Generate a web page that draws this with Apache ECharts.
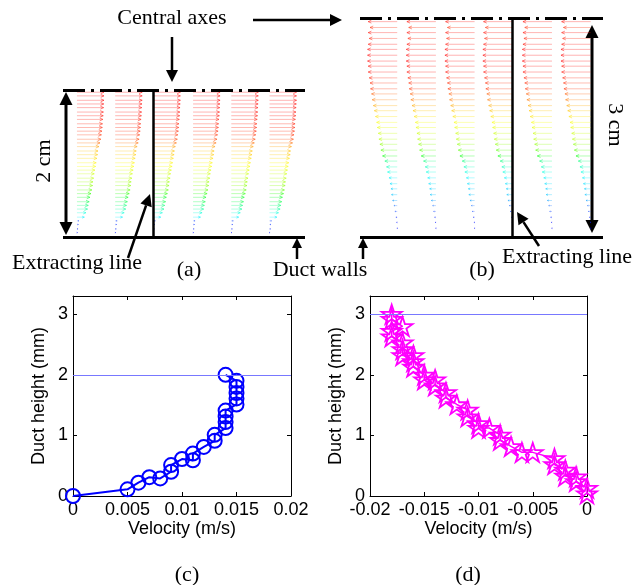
<!DOCTYPE html>
<html><head><meta charset="utf-8">
<script src="https://cdn.jsdelivr.net/npm/echarts@6/dist/echarts.min.js"></script>
<style>html,body{margin:0;padding:0;background:#fff}#c{width:640px;height:585px}</style>
</head><body><div id="c"></div>
<script>
// ---- Panel (a): vector field, arrows pointing +x ----
var colsA = [0.19, 0.71, 1.23, 1.77, 2.29, 2.81];          // column positions (cm)
var hA = [0.06,0.11,0.17,0.22,0.27,0.33,0.38,0.43,0.48,0.54,0.59,0.64,0.70,0.75,0.80,0.86,0.91,0.96,1.01,1.07,1.12,1.17,1.23,1.28,1.33,1.39,1.44,1.49,1.54,1.60,1.65,1.70,1.76,1.81,1.86,1.92,1.97];
var uA = [0.0003,0.0006,0.0008,0.0011,0.0041,0.0050,0.0059,0.0063,0.0068,0.0072,0.0078,0.0083,0.0087,0.0089,0.0093,0.0096,0.0100,0.0104,0.0107,0.0111,0.0115,0.0117,0.0122,0.0128,0.0133,0.0136,0.0139,0.0141,0.0142,0.0144,0.0146,0.0147,0.0148,0.0149,0.0150,0.0150,0.0150];
var centerA = 2, wallA = 0, extractColA = 2;

// ---- Panel (b): vector field, arrows pointing -x ----
var colsB = [0.51, 1.04, 1.57, 2.09, 2.63, 3.16];
var hB = [0.12,0.20,0.27,0.35,0.43,0.50,0.58,0.66,0.73,0.81,0.89,0.96,1.04,1.11,1.19,1.27,1.34,1.42,1.50,1.57,1.65,1.73,1.80,1.88,1.96,2.03,2.11,2.18,2.26,2.34,2.41,2.49,2.57,2.64,2.72,2.80,2.87,2.95];
var uB = [-0.0002,-0.0004,-0.0008,-0.0014,-0.0020,-0.0028,-0.0035,-0.0038,-0.0044,-0.0050,-0.0059,-0.0065,-0.0075,-0.0089,-0.0099,-0.0105,-0.0111,-0.0115,-0.0121,-0.0125,-0.0132,-0.0139,-0.0145,-0.0152,-0.0156,-0.0162,-0.0165,-0.0170,-0.0176,-0.0176,-0.0180,-0.0180,-0.0180,-0.0176,-0.0170,-0.0176,-0.0165,-0.0176];
var centerB = 3, wallB = 0, extractColB = 3;

// ---- Panel (c) ----
var velC = [0,0.005,0.006,0.007,0.008,0.009,0.009,0.010,0.011,0.011,0.012,0.013,0.013,0.014,0.014,0.014,0.014,0.015,0.015,0.015,0.015,0.015,0.014];
var hC   = [0,0.11,0.22,0.31,0.29,0.40,0.51,0.61,0.59,0.70,0.81,0.91,1.01,1.12,1.22,1.31,1.41,1.51,1.61,1.70,1.80,1.90,2.00];
var centerC = 2;
var xTicksC = ['0','0.005','0.01','0.015','0.02'];

// ---- Panel (d) ----
var velD = [0,0,-0.001,-0.001,-0.002,-0.002,-0.003,-0.003,-0.005,-0.006,-0.007,-0.008,-0.008,-0.009,-0.010,-0.010,-0.011,-0.011,-0.012,-0.013,-0.013,-0.014,-0.014,-0.015,-0.015,-0.016,-0.016,-0.016,-0.017,-0.017,-0.017,-0.018,-0.018,-0.017,-0.018,-0.018];
var hD   = [0.04,0.13,0.24,0.32,0.33,0.43,0.52,0.62,0.72,0.72,0.82,0.92,1.01,1.12,1.12,1.20,1.31,1.42,1.51,1.62,1.71,1.82,1.92,1.92,2.00,2.13,2.22,2.32,2.32,2.42,2.53,2.63,2.72,2.80,2.92,3.00];
var centerD = 3;
var xTicksD = ['-0.02','-0.015','-0.01','-0.005','0'];
var yTicks = ['0','1','2','3'];

var SERIF = "'Liberation Serif','Times New Roman',serif";
var SANS = "'Liberation Sans',Arial,sans-serif";
var jet = ['#0000ff','#2a6cff','#00c8ff','#00ffff','#00ff90','#00ff00','#a8ff00','#ffff00','#ffb000','#ff3000','#ff0000'];

function field(cols, hs, us){
  var d = [];
  cols.forEach(function(c){ hs.forEach(function(h, j){ d.push([c, h, us[j]]); }); });
  return d;
}
function arrowRender(scale){
  return function(params, api){
    var x0 = api.value(0), y0 = api.value(1), u = api.value(2);
    var p0 = api.coord([x0, y0]), p1 = api.coord([x0 + u*scale, y0]);
    var c = api.visual('color');
    var dx = p1[0]-p0[0], len = Math.abs(dx), dir = dx >= 0 ? 1 : -1;
    var hl = Math.max(0.8, Math.min(3.2, len*0.3)), hw = hl*0.45;
    return {type:'group', children:[
      {type:'line', shape:{x1:p0[0],y1:p0[1],x2:p1[0],y2:p1[1]}, style:{stroke:c, lineWidth:1, opacity:0.3}},
      {type:'polyline', shape:{points:[[p1[0]-dir*hl,p1[1]-hw],[p1[0],p1[1]],[p1[0]-dir*hl,p1[1]+hw]]}, style:{stroke:c, fill:null, lineWidth:1, opacity:0.5}}
    ]};
  };
}
function tickFmt(labels){
  return function(v){
    for (var i=0;i<labels.length;i++){ if (Math.abs(parseFloat(labels[i]) - v) < 1e-9) return labels[i]; }
    return '';
  };
}
function arrowG(x1,y1,x2,y2,hl,hw,lw){
  var dx=x2-x1, dy=y2-y1, L=Math.sqrt(dx*dx+dy*dy), ux=dx/L, uy=dy/L;
  var bx=x2-ux*hl, by=y2-uy*hl;
  return [
    {type:'line', shape:{x1:x1,y1:y1,x2:bx,y2:by}, style:{stroke:'#000', lineWidth:lw}},
    {type:'polygon', shape:{points:[[x2,y2],[bx-uy*hw,by+ux*hw],[bx+uy*hw,by-ux*hw]]}, style:{fill:'#000'}}
  ];
}
function dblArrowG(x,y1,y2,hl,hw,lw){
  return [
    {type:'line', shape:{x1:x,y1:y1+hl,x2:x,y2:y2-hl}, style:{stroke:'#000', lineWidth:lw}},
    {type:'polygon', shape:{points:[[x,y1],[x-hw,y1+hl],[x+hw,y1+hl]]}, style:{fill:'#000'}},
    {type:'polygon', shape:{points:[[x,y2],[x-hw,y2-hl],[x+hw,y2-hl]]}, style:{fill:'#000'}}
  ];
}
function txt(s,x,y,rot,size){
  return {type:'text', x:x, y:y, rotation:rot||0, style:{text:s, fill:'#000', font:(size||22)+'px '+SERIF, textAlign:'center', textVerticalAlign:'middle'}};
}

var graphics = [].concat(
  [txt('Central axes',172,18), txt('Extracting line',77,263), txt('(a)',189,270), txt('Duct walls',320,270),
   txt('(b)',482,270), txt('Extracting line',567,257), txt('2 cm',44,161,Math.PI/2), txt('3 cm',615,125,-Math.PI/2),
   txt('(c)',187,575), txt('(d)',468,575)],
  arrowG(172,37,172,82,12,6,2.5),
  arrowG(253,20,342,20,12,6,2.5),
  arrowG(128,258,150,194,12,6,2.5),
  arrowG(539,246,517,212,12,6,2.5),
  arrowG(297,259,297,238,10,5,2.5),
  arrowG(363,259,363,238,10,5,2.5),
  dblArrowG(66,92,235,13,6.5,3),
  dblArrowG(592,25,233,13,6.5,3)
);

var starPath = 'path://M0,-10L2.245,-3.09L9.511,-3.09L3.633,1.18L5.878,8.09L0,3.82L-5.878,8.09L-3.633,1.18L-9.511,-3.09L-2.245,-3.09Z';

function hiddenAxis(grid,min,max){ return {gridIndex:grid, type:'value', min:min, max:max, show:false}; }
function plotX(grid,min,max,labels,pos,withName){
  return {gridIndex:grid, type:'value', min:min, max:max, interval:0.005, position:pos,
    name: withName ? 'Velocity (m/s)' : '', nameLocation:'middle', nameGap:23,
    nameTextStyle:{fontFamily:SANS, fontSize:18, color:'#000'},
    axisLine:{show:true, onZero:false, lineStyle:{color:'#000', width:1}},
    axisTick:{show:true, inside:true, length:4, lineStyle:{color:'#000'}},
    axisLabel:{show:withName, fontFamily:SANS, fontSize:18, color:'#000', margin:5, formatter:tickFmt(labels)},
    splitLine:{show:false}};
}
function plotY(grid,pos,withName){
  return {gridIndex:grid, type:'value', min:0, max:3.3, interval:1, position:pos,
    name: withName ? 'Duct height (mm)' : '', nameLocation:'middle', nameGap:25, nameRotate:90,
    nameTextStyle:{fontFamily:SANS, fontSize:18, color:'#000'},
    axisLine:{show:true, onZero:false, lineStyle:{color:'#000', width:1}},
    axisTick:{show:true, inside:true, length:4, lineStyle:{color:'#000'}},
    axisLabel:{show:withName, fontFamily:SANS, fontSize:18, color:'#000', margin:5, formatter:tickFmt(yTicks)},
    splitLine:{show:false}};
}
function refLines(list){
  return {silent:true, symbol:['none','none'], label:{show:false}, animation:false, data:list};
}

var chart = echarts.init(document.getElementById('c'), null, {renderer:'canvas'});
chart.setOption({
  backgroundColor:'#fff',
  animation:false,
  grid:[
    {left:63, top:90, width:242, height:147, outerBoundsMode:'none'},
    {left:360, top:18, width:243, height:219, outerBoundsMode:'none'},
    {left:73, top:296, width:218, height:200, outerBoundsMode:'none'},
    {left:370, top:296, width:217, height:200, outerBoundsMode:'none'}
  ],
  xAxis:[
    hiddenAxis(0,0,3.293), hiddenAxis(1,0,3.329),
    plotX(2,0,0.02,xTicksC,'bottom',true), plotX(2,0,0.02,xTicksC,'top',false),
    plotX(3,-0.02,0,xTicksD,'bottom',true), plotX(3,-0.02,0,xTicksD,'top',false)
  ],
  yAxis:[
    hiddenAxis(0,0,2), hiddenAxis(1,0,3),
    plotY(2,'left',true), plotY(2,'right',false),
    plotY(3,'left',true), plotY(3,'right',false)
  ],
  visualMap:[
    {show:false, type:'continuous', seriesIndex:0, dimension:2, min:0, max:0.015, inRange:{color:jet}},
    {show:false, type:'continuous', seriesIndex:1, dimension:2, min:-0.018, max:0, inRange:{color:jet.slice().reverse()}}
  ],
  series:[
    {type:'custom', xAxisIndex:0, yAxisIndex:0, renderItem:arrowRender(24.5), data:field(colsA,hA,uA), clip:false,
     markLine:refLines([
       {yAxis:centerA, lineStyle:{type:[22,6,3,6], width:3, color:'#000'}},
       {yAxis:wallA, lineStyle:{type:'solid', width:3, color:'#000'}},
       {xAxis:colsA[extractColA], lineStyle:{type:'solid', width:2.5, color:'#000'}}
     ])},
    {type:'custom', xAxisIndex:1, yAxisIndex:1, renderItem:arrowRender(22.6), data:field(colsB,hB,uB), clip:false,
     markLine:refLines([
       {yAxis:centerB, lineStyle:{type:[22,6,3,6], width:3, color:'#000'}},
       {yAxis:wallB, lineStyle:{type:'solid', width:3, color:'#000'}},
       {xAxis:colsB[extractColB], lineStyle:{type:'solid', width:2.5, color:'#000'}}
     ])},
    {type:'line', xAxisIndex:2, yAxisIndex:2, data:velC.map(function(v,i){return [v,hC[i]];}),
     symbol:'circle', symbolSize:14, showAllSymbol:true, clip:false,
     itemStyle:{color:'rgba(0,0,0,0)', borderColor:'#0000ff', borderWidth:2},
     lineStyle:{color:'#0000ff', width:2},
     markLine:refLines([{yAxis:centerC, lineStyle:{type:'solid', width:1.2, color:'#7878ff'}}])},
    {type:'line', xAxisIndex:4, yAxisIndex:4, data:velD.map(function(v,i){return [v,hD[i]];}),
     symbol:starPath, symbolSize:20, symbolKeepAspect:true, showAllSymbol:true, clip:false,
     itemStyle:{color:'rgba(0,0,0,0)', borderColor:'#ff00ff', borderWidth:1.8},
     lineStyle:{color:'#ff00ff', width:1.5},
     markLine:refLines([{yAxis:centerD, lineStyle:{type:'solid', width:1.2, color:'#7878ff'}}])}
  ],
  graphic:graphics
});
</script>
</body></html>
